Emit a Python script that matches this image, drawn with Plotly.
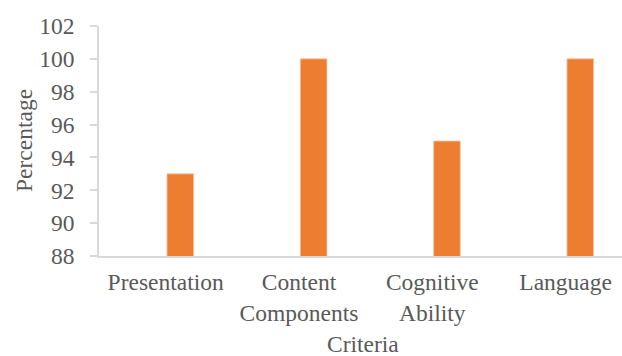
import plotly.graph_objects as go

categories = ["Presentation", "Content<br>Components", "Cognitive<br>Ability", "Language"]
values = [93, 100, 95, 100]
y_ticks = [88, 90, 92, 94, 96, 98, 100, 102]

FONT = "Liberation Serif, Times New Roman, serif"
TXT = "#595959"
AX = "#d9d9d9"
FS = 23.5

fig = go.Figure()
fig.add_trace(go.Bar(
    x=categories, y=values,
    width=0.2, offset=0.01,
    marker=dict(color="#ED7D31", line=dict(color="#f6c8a8", width=0.8)),
))

fig.update_layout(
    width=622, height=356,
    margin=dict(l=99, r=0, t=26, b=100),
    paper_bgcolor="white", plot_bgcolor="white",
    showlegend=False,
    font=dict(family=FONT, size=FS, color=TXT),
    xaxis=dict(
        type="category",
        range=[-0.5, 3.423],
        showline=True, linecolor=AX, linewidth=1.5,
        ticks="", showgrid=False, zeroline=False,
        tickfont=dict(family=FONT, size=FS, color=TXT),
        ticklabelstandoff=4,
    ),
    yaxis=dict(
        range=[88, 102], tickvals=y_ticks,
        showline=True, linecolor=AX, linewidth=1.5,
        ticks="outside", ticklen=7, tickcolor=AX, tickwidth=1.5,
        showgrid=False, zeroline=False,
        tickfont=dict(family=FONT, size=FS, color=TXT),
        ticklabelstandoff=11,
    ),
    annotations=[
        dict(text="Percentage", x=0, y=0.5, xref="paper", yref="paper",
             showarrow=False, textangle=-90, xanchor="center", yanchor="middle",
             font=dict(family=FONT, size=FS, color=TXT)),
        dict(text="Criteria", x=0.5, y=0, xref="paper", yref="paper",
             showarrow=False, xanchor="center", yanchor="middle",
             font=dict(family=FONT, size=FS, color=TXT)),
    ],
)
# position axis titles in pixel terms
plot_w = 622 - 99
plot_h = 356 - 26 - 100
fig.layout.annotations[0].x = (24 - 99) / plot_w
fig.layout.annotations[1].x = (362.5 - 99) / plot_w
fig.layout.annotations[1].y = -(344 - (356 - 100)) / plot_h

fig.write_html("out.html")
